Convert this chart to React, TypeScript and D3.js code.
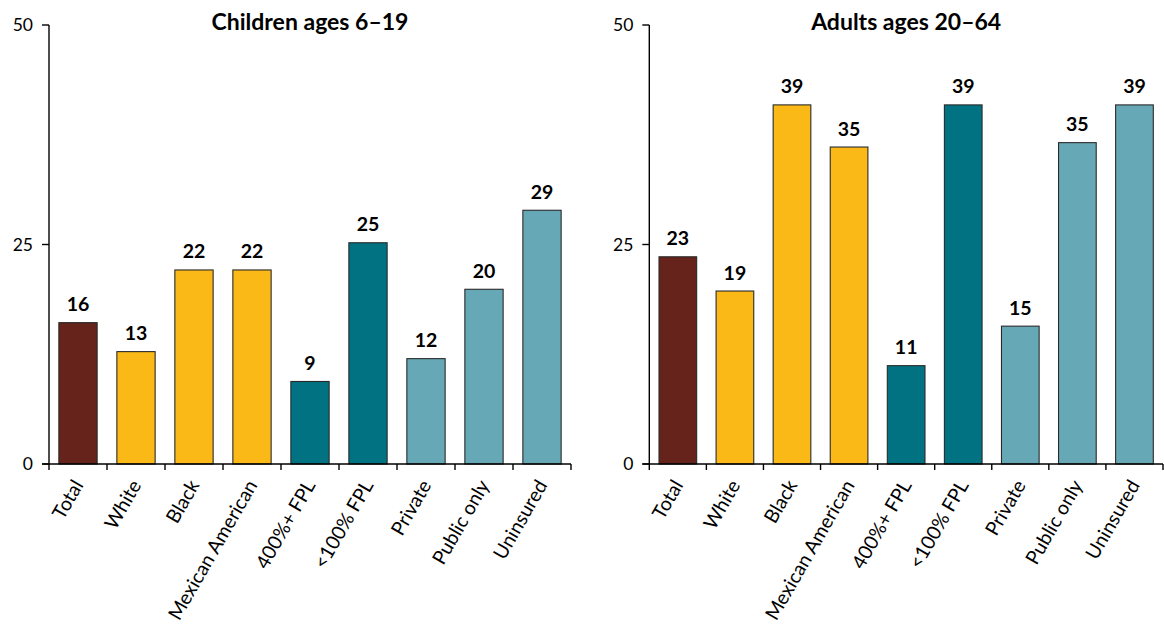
import React from "react";
import * as d3 from "d3";

const categories = ["Total", "White", "Black", "Mexican American", "400%+ FPL", "<100% FPL", "Private", "Public only", "Uninsured"];
const groups = ["total", "race", "race", "race", "income", "income", "insurance", "insurance", "insurance"];
const childValues = [16.1, 12.8, 22.1, 22.1, 9.4, 25.2, 12.0, 19.9, 28.9];
const childLabels = ["16", "13", "22", "22", "9", "25", "12", "20", "29"];
const adultValues = [23.6, 19.7, 40.9, 36.1, 11.2, 40.9, 15.7, 36.6, 40.9];
const adultLabels = ["23", "19", "39", "35", "11", "39", "15", "35", "39"];
const yTicks = [0, 25, 50];
const titles = ["Children ages 6\u201319", "Adults ages 20\u201364"];

const colors: Record<string, string> = {
  total: "#65231c",
  race: "#fbb917",
  income: "#007282",
  insurance: "#67a8b6",
};

const FONT = "Lato, 'Noto Sans', sans-serif";

function Panel({ x0, x1, values, labels, title }: { x0: number; x1: number; values: number[]; labels: string[]; title: string }) {
  const y = d3.scaleLinear().domain([0, 50]).range([464, 25]);
  const x = d3.scaleBand().domain(categories).range([x0, x1]).paddingInner(0.34).paddingOuter(0.17);
  const step = x.step();
  const boundaries = d3.range(categories.length + 1).map((i) => x0 + i * step);
  return (
    <g>
      <text x={(x0 + x1) / 2} y={30} textAnchor="middle" fontFamily={FONT} fontWeight={700} fontSize={23}>{title}</text>
      <line x1={x0} x2={x0} y1={y(50)} y2={y(0)} stroke="#000" strokeWidth={1.4} />
      {yTicks.map((t) => (
        <g key={t}>
          <line x1={x0 - 7} x2={x0} y1={y(t)} y2={y(t)} stroke="#000" strokeWidth={1.4} />
          <text x={x0 - 16} y={y(t) + 6} textAnchor="end" fontFamily={FONT} fontSize={17.5}>{t}</text>
        </g>
      ))}
      {values.map((v, i) => {
        const c = categories[i];
        const bx = x(c)!;
        return (
          <g key={c}>
            <rect x={bx} y={y(v)} width={x.bandwidth()} height={y(0) - y(v)} fill={colors[groups[i]]} stroke="#2a2a2a" strokeWidth={1.1} />
            <text x={bx + x.bandwidth() / 2} y={y(v) - 11.5} textAnchor="middle" fontFamily={FONT} fontWeight={700} fontSize={19.5}>{labels[i]}</text>
          </g>
        );
      })}
      <line x1={x0 - 7} x2={x1} y1={y(0)} y2={y(0)} stroke="#000" strokeWidth={1.4} />
      {boundaries.map((b, i) => (
        <line key={i} x1={b} x2={b} y1={y(0)} y2={y(0) + 6} stroke="#000" strokeWidth={1.4} />
      ))}
      {categories.map((c) => {
        const cx = x(c)! + x.bandwidth() / 2 + 6;
        const cy = y(0) + 21;
        return (
          <text key={c} transform={`translate(${cx},${cy}) rotate(-60)`} textAnchor="end" fontFamily={FONT} fontSize={19.5}>{c}</text>
        );
      })}
    </g>
  );
}

export default function App() {
  return (
    <div style={{ position: "absolute", left: 0, top: 0 }}>
      <svg width={1164} height={626} style={{ display: "block", background: "#fff" }}>
        <Panel x0={49} x1={571} values={childValues} labels={childLabels} title={titles[0]} />
        <Panel x0={649.3} x1={1163} values={adultValues} labels={adultLabels} title={titles[1]} />
      </svg>
    </div>
  );
}
